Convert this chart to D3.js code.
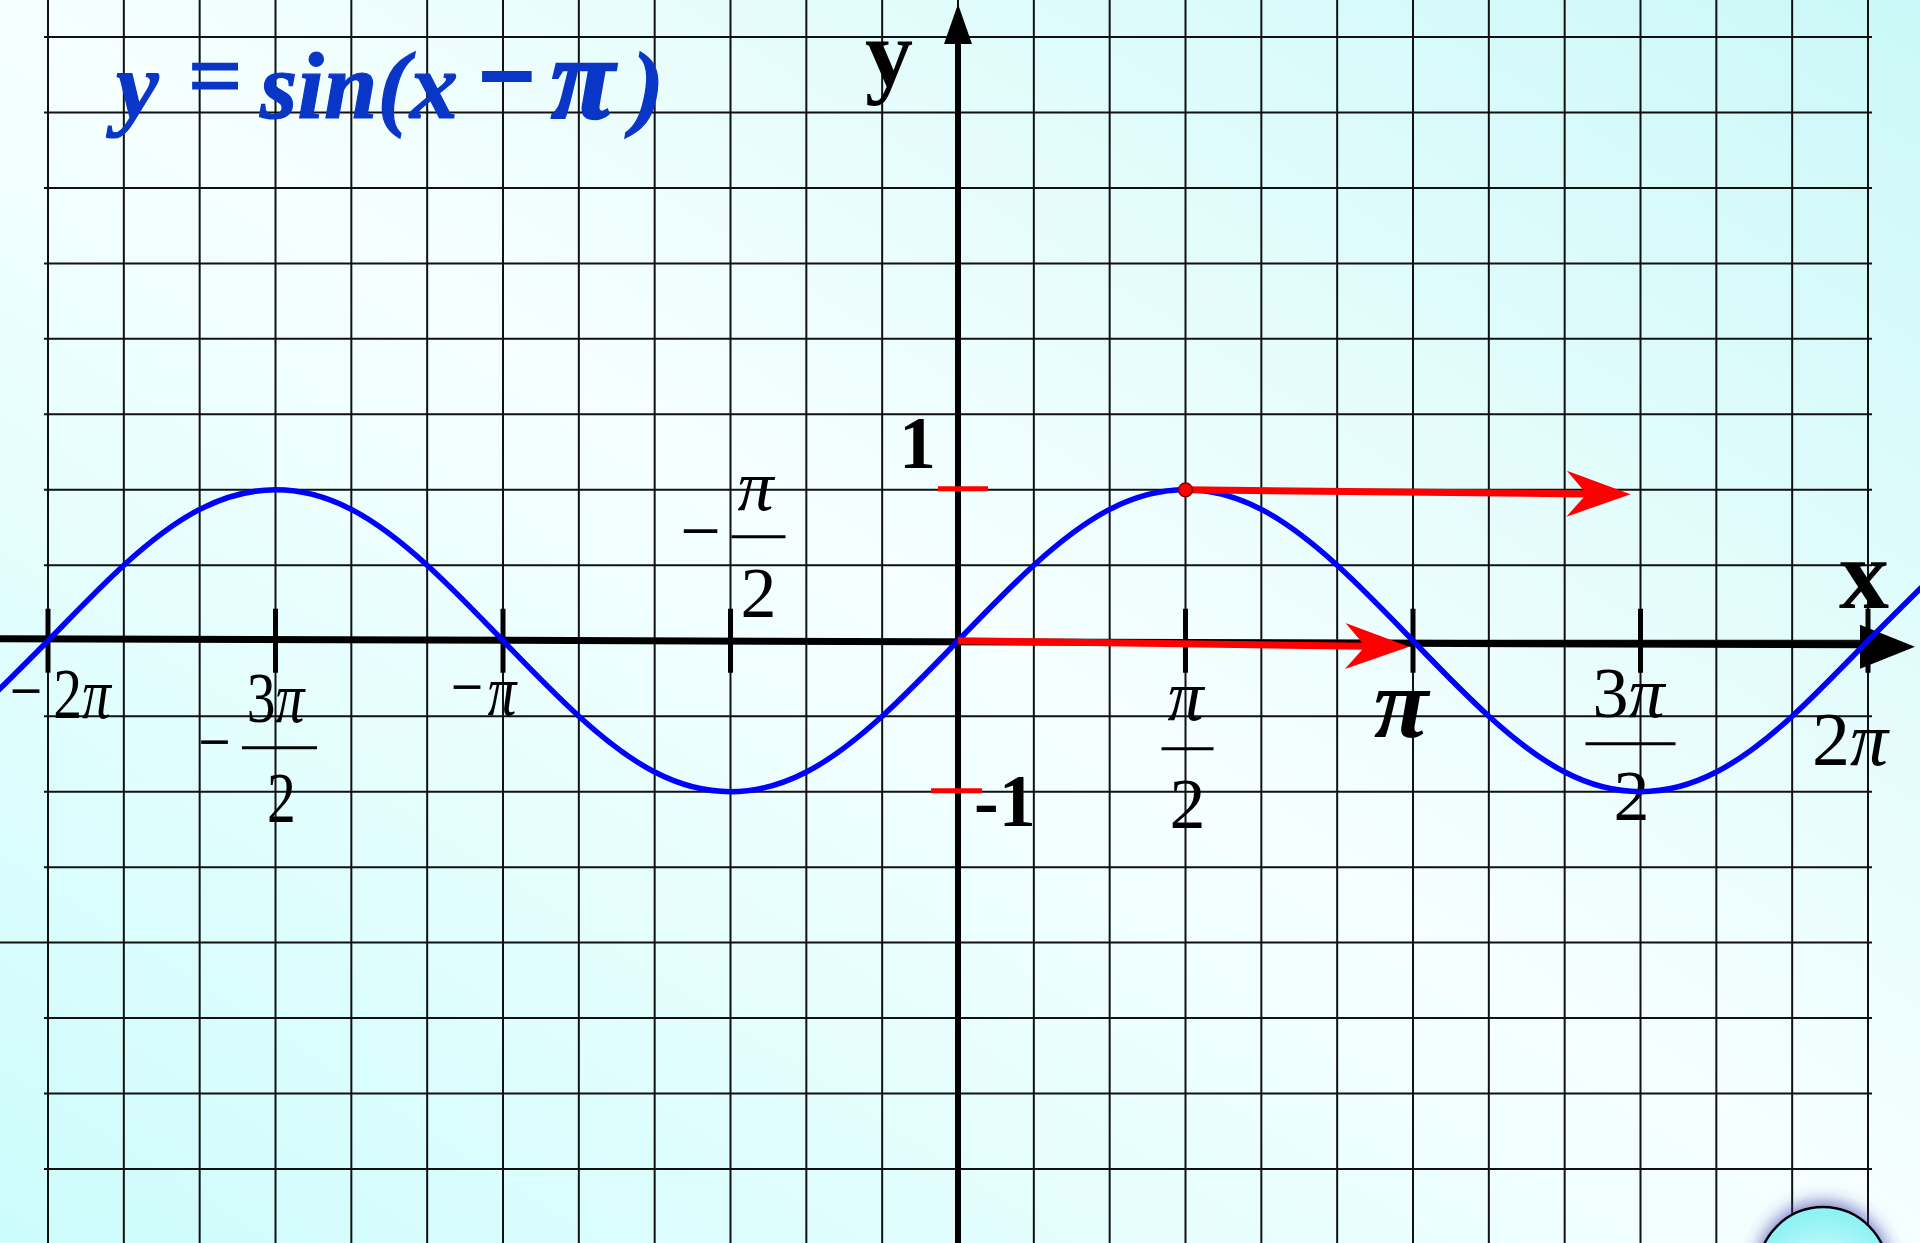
<!DOCTYPE html>
<html>
<head>
<meta charset="utf-8">
<title>y = sin(x − π)</title>
<script src="https://cdn.jsdelivr.net/npm/d3@7/dist/d3.min.js"></script>
<style>
  body { margin: 0; overflow: hidden; }
  svg { display: block; }
  text { font-family: "Liberation Serif", "Times New Roman", serif; }
</style>
</head>
<body>
<svg></svg>
<script>
// curve samples, x counted in steps of pi/6
var curveSteps = [-13, -12, -11, -10, -9, -8, -7, -6, -5, -4, -3, -2, -1, 0,
                  1, 2, 3, 4, 5, 6, 7, 8, 9, 10, 11, 12, 13];
var curveValues = [-0.5, 0, 0.5, 0.87, 1, 0.87, 0.5, 0, -0.5, -0.87, -1, -0.87, -0.5, 0,
                   0.5, 0.87, 1, 0.87, 0.5, 0, -0.5, -0.87, -1, -0.87, -0.5, 0, 0.5];

// x axis ticks (steps of pi/6) and their labels
var tickSteps = [-12, -9, -6, -3, 3, 6, 9, 12];
var tickSigns = ["−", "−", "−", "−", "", "", "", ""];
var tickNumerators = ["2π", "3π", "π", "π", "π", "π", "3π", "2π"];
var tickDenominators = ["", "2", "", "2", "2", "", "2", ""];

// marks on the y axis
var yMarkValues = [1, -1];
var yMarkLabels = ["1", "-1"];

// grid lines
var gridStepsX = [-12, -11, -10, -9, -8, -7, -6, -5, -4, -3, -2, -1, 0,
                  1, 2, 3, 4, 5, 6, 7, 8, 9, 10, 11, 12];
var gridValuesY = [4, 3.5, 3, 2.5, 2, 1.5, 1, 0.5, 0, -0.5, -1, -1.5, -2, -2.5, -3, -3.5];

// red shift arrows
var shiftFromX = [3, 0];
var shiftFromY = [1, 0];
var shiftToX = [8.87, 5.95];
var shiftToY = [0.97, -0.04];

// title pieces
var titleParts = ["y", "=", "sin(", "x", "−", "π", ")"];

// where each tick label sits relative to its tick (not data)
var labelLayout = [
  { sx: 0.8, size: 72, sign: [-22, 74], num: [34, 77] },
  { sx: 0.8, size: 72, sign: [-61, 125], num: [0, 81], bar: [4, 107, 75], den: [6, 181] },
  { sx: 0.8, size: 72, sign: [-36, 70], num: [-1, 74] },
  { sx: 1, size: 72, sign: [-30, -86], num: [25, -131], bar: [28, -104, 54], den: [28, -24] },
  { sx: 1, size: 72, num: [0, 79], bar: [2, 108, 52], den: [2, 187] },
  { sx: 1, size: 100, bold: true, num: [-12, 96] },
  { sx: 1, size: 72, num: [-12, 76], bar: [-10, 103, 90], den: [-9, 179] },
  { sx: 1, size: 76, num: [-18, 124] }
];
// title piece placement: x, baseline shift, font size
var titleLayout = [[116, 0, 96], [188, -10, 96], [260, 0, 96], [410, 0, 96],
                   [479, -9, 98], [551, 0, 116], [632, 0, 96]];

var W = 1920, H = 1243;

var svg = d3.select("svg")
            .attr("width", W)
            .attr("height", H);

var x = d3.scaleLinear().domain([-12, 12]).range([48, 1868]);
var y = d3.scaleLinear().domain([-3.5, 4]).range([1169, 37]);

var defs = svg.append("defs");

var bg = defs.append("linearGradient")
             .attr("id", "bg")
             .attr("x1", 0).attr("y1", 1)
             .attr("x2", 1).attr("y2", 0);
bg.append("stop").attr("offset", "0%").attr("stop-color", "#cdfcfc");
bg.append("stop").attr("offset", "50%").attr("stop-color", "#f6ffff");
bg.append("stop").attr("offset", "100%").attr("stop-color", "#cbf8f8");

var ball = defs.append("radialGradient")
               .attr("id", "ball")
               .attr("cx", "50%").attr("cy", "60%").attr("r", "55%");
ball.append("stop").attr("offset", "0%").attr("stop-color", "#e8ffff");
ball.append("stop").attr("offset", "100%").attr("stop-color", "#8ff2f4");

var glow = defs.append("filter")
               .attr("id", "glow")
               .attr("x", "-50%").attr("y", "-50%")
               .attr("width", "200%").attr("height", "200%");
glow.append("feDropShadow")
    .attr("dx", 0).attr("dy", -3)
    .attr("stdDeviation", 9)
    .attr("flood-color", "#3a3aa8")
    .attr("flood-opacity", 0.75);

svg.append("rect")
   .attr("width", W)
   .attr("height", H)
   .attr("fill", "url(#bg)");

// grid
var grid = svg.append("g").attr("stroke", "#111").attr("stroke-width", 2);

grid.selectAll("line.v")
    .data(gridStepsX)
    .enter()
    .append("line")
    .attr("class", "v")
    .attr("x1", function(d) { return x(d); })
    .attr("x2", function(d) { return x(d); })
    .attr("y1", 0)
    .attr("y2", H);

grid.selectAll("line.h")
    .data(gridValuesY)
    .enter()
    .append("line")
    .attr("class", "h")
    .attr("x1", function(d) { return d == -2 ? 0 : x(-12) - 4; })
    .attr("x2", x(12) + 4)
    .attr("y1", function(d) { return y(d); })
    .attr("y2", function(d) { return y(d); });

// bottom-right button
svg.append("circle")
   .attr("cx", 1823)
   .attr("cy", 1272)
   .attr("r", 65)
   .attr("fill", "url(#ball)")
   .attr("stroke", "#000")
   .attr("stroke-width", 2.5)
   .attr("filter", "url(#glow)");

// axes
var x0 = x(0), y0 = y(0);

svg.append("line")
   .attr("x1", 0).attr("y1", y0 - 2)
   .attr("x2", 1866).attr("y2", y0 + 4)
   .attr("stroke", "#000")
   .attr("stroke-width", 7);

svg.append("path")
   .attr("d", "M1915," + (y0 + 6) + "L1860," + (y0 - 16) + "L1860," + (y0 + 28) + "Z")
   .attr("fill", "#000");

svg.append("line")
   .attr("x1", x0).attr("y1", 40)
   .attr("x2", x0).attr("y2", H)
   .attr("stroke", "#000")
   .attr("stroke-width", 6);

svg.append("path")
   .attr("d", "M" + x0 + ",4L" + (x0 - 14) + ",44L" + (x0 + 14) + ",44Z")
   .attr("fill", "#000");

svg.selectAll("line.tick")
   .data(tickSteps)
   .enter()
   .append("line")
   .attr("class", "tick")
   .attr("x1", function(d) { return x(d); })
   .attr("x2", function(d) { return x(d); })
   .attr("y1", y0 - 32)
   .attr("y2", y0 + 32)
   .attr("stroke", "#000")
   .attr("stroke-width", 5);

// tick labels
var labels = svg.selectAll("g.label")
                .data(tickSteps)
                .enter()
                .append("g")
                .attr("class", "label")
                .attr("fill", "#000");

labels.each(function(d, i) {
    var g = d3.select(this);
    var L = labelLayout[i];
    var tx = x(d);

    function place(pos) {
        return "translate(" + (tx + pos[0]) + "," + (y0 + pos[1]) + ") scale(" + L.sx + ",1)";
    }

    if (tickSigns[i]) {
        g.append("text")
         .attr("transform", place(L.sign))
         .attr("text-anchor", "middle")
         .style("font-size", "72px")
         .text(tickSigns[i]);
    }

    var num = g.append("text")
               .attr("transform", place(L.num))
               .attr("text-anchor", "middle")
               .style("font-size", L.size + "px");
    var parts = tickNumerators[i].split("π");
    if (parts[0]) num.append("tspan").text(parts[0]);
    num.append("tspan")
       .style("font-style", "italic")
       .style("font-weight", L.bold ? "bold" : "normal")
       .text("π");

    if (tickDenominators[i]) {
        g.append("line")
         .attr("x1", tx + L.bar[0] - L.bar[2] / 2)
         .attr("x2", tx + L.bar[0] + L.bar[2] / 2)
         .attr("y1", y0 + L.bar[1])
         .attr("y2", y0 + L.bar[1])
         .attr("stroke", "#000")
         .attr("stroke-width", 3);
        g.append("text")
         .attr("transform", place(L.den))
         .attr("text-anchor", "middle")
         .style("font-size", L.size + "px")
         .text(tickDenominators[i]);
    }
});

// sine curve
var line = d3.line()
             .x(function(d) { return x(d[0]); })
             .y(function(d) { return y(d[1]); })
             .curve(d3.curveNatural);

svg.append("path")
   .datum(d3.zip(curveSteps, curveValues))
   .attr("d", line)
   .attr("fill", "none")
   .attr("stroke", "#0000ff")
   .attr("stroke-width", 5.5);

// red marks on y axis
svg.selectAll("line.ymark")
   .data(yMarkValues)
   .enter()
   .append("line")
   .attr("class", "ymark")
   .attr("x1", function(d) { return d > 0 ? x0 - 20 : x0 - 27; })
   .attr("x2", function(d) { return d > 0 ? x0 + 30 : x0 + 24; })
   .attr("y1", function(d) { return y(d) - 1; })
   .attr("y2", function(d) { return y(d) - 1; })
   .attr("stroke", "#ff0000")
   .attr("stroke-width", 5);

svg.selectAll("text.ymark")
   .data(yMarkValues)
   .enter()
   .append("text")
   .attr("class", "ymark")
   .attr("x", function(d) { return d > 0 ? x0 - 22 : x0 + 16; })
   .attr("y", function(d) { return d > 0 ? y(d) - 22 : y(d) + 34; })
   .attr("text-anchor", function(d) { return d > 0 ? "end" : "start"; })
   .style("font-size", "74px")
   .style("font-weight", "bold")
   .text(function(d, i) { return yMarkLabels[i]; });

// shift arrows
var arrows = svg.selectAll("g.arrow")
                .data(d3.range(shiftFromX.length))
                .enter()
                .append("g")
                .attr("class", "arrow");

arrows.each(function(i) {
    var g = d3.select(this);
    var ax = x(shiftFromX[i]), ay = y(shiftFromY[i]);
    var bx = x(shiftToX[i]), by = y(shiftToY[i]);
    var ang = Math.atan2(by - ay, bx - ax);
    var c = Math.cos(ang), s = Math.sin(ang);
    function pt(back, side) {
        return [bx - back * c - side * s, by - back * s + side * c];
    }
    var notch = pt(44, 0);
    g.append("line")
     .attr("x1", ax).attr("y1", ay)
     .attr("x2", notch[0]).attr("y2", notch[1])
     .attr("stroke", "#ff0000")
     .attr("stroke-width", 7);
    g.append("path")
     .attr("d", "M" + [bx, by] + "L" + pt(64, -23) + "L" + notch + "L" + pt(64, 23) + "Z")
     .attr("fill", "#ff0000");
});

svg.append("circle")
   .attr("cx", x(shiftFromX[0]))
   .attr("cy", y(shiftFromY[0]))
   .attr("r", 7)
   .attr("fill", "#ff0000")
   .attr("stroke", "#700000")
   .attr("stroke-width", 1.2);

// axis names
svg.append("text")
   .attr("x", 889)
   .attr("y", 86)
   .attr("text-anchor", "middle")
   .style("font-size", "96px")
   .style("font-weight", "bold")
   .text("y");

svg.append("text")
   .attr("x", 1864)
   .attr("y", 608)
   .attr("text-anchor", "middle")
   .style("font-size", "100px")
   .style("font-weight", "bold")
   .text("x");

// title
var title = svg.append("text")
               .attr("y", 118)
               .attr("fill", "#0a36c8")
               .attr("stroke", "#0a36c8")
               .attr("stroke-width", 1.2)
               .style("font-weight", "bold")
               .style("font-style", "italic");

title.selectAll("tspan")
     .data(titleParts)
     .enter()
     .append("tspan")
     .attr("x", function(d, i) { return titleLayout[i][0]; })
     .attr("y", function(d, i) { return 118 + titleLayout[i][1]; })
     .style("font-size", function(d, i) { return titleLayout[i][2] + "px"; })
     .style("font-style", function(d) { return d == "=" || d == "−" ? "normal" : "italic"; })
     .attr("stroke-width", function(d) { return d == "−" ? 4 : (d == "π" ? 2.5 : 1.2); })
     .text(function(d) { return d; });
</script>
</body>
</html>
